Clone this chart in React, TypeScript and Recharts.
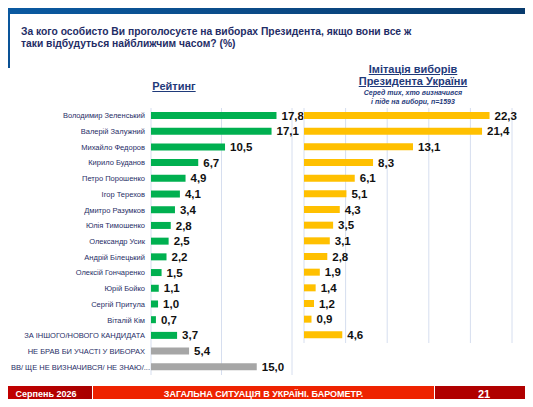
import React from 'react';
import { BarChart, Bar, XAxis, YAxis, CartesianGrid, LabelList, Cell } from 'recharts';

const ratingNames = [
    'Володимир Зеленський',
    'Валерій Залужний',
    'Михайло Федоров',
    'Кирило Буданов',
    'Петро Порошенко',
    'Ігор Терехов',
    'Дмитро Разумков',
    'Юлія Тимошенко',
    'Олександр Усик',
    'Андрій Білецький',
    'Олексій Гончаренко',
    'Юрій Бойко',
    'Сергій Притула',
    'Віталій Кім',
    'ЗА ІНШОГО/НОВОГО КАНДИДАТА',
    'НЕ БРАВ БИ УЧАСТІ У ВИБОРАХ',
    'ВВ/ ЩЕ НЕ ВИЗНАЧИВСЯ/ НЕ ЗНАЮ/...',
];
const ratingValues = [17.8, 17.1, 10.5, 6.7, 4.9, 4.1, 3.4, 2.8, 2.5, 2.2, 1.5, 1.1, 1.0, 0.7, 3.7, 5.4, 15.0];
const imitationValues = [22.3, 21.4, 13.1, 8.3, 6.1, 5.1, 4.3, 3.5, 3.1, 2.8, 1.9, 1.4, 1.2, 0.9, 4.6];
const ratingTicks = [0, 10, 20];
const imitationTicks = [0, 5, 10, 15, 20, 25];

const ratingData = ratingNames.map((name, i) => ({ name, value: ratingValues[i] }));
const imitationData = imitationValues.map((value, i) => ({ name: ratingNames[i], value }));

const FONT = '"Liberation Sans", Arial, sans-serif';
const NAVY = '#1f2d66';
const GRID = '#d6deef';

const fmt = (v: any) => Number(v).toFixed(1).replace('.', ',');

// one-line tick, recharts would wrap long names otherwise
function NameTick({ x, y, payload, index }: any) {
    // the last (truncated) label runs a bit past the others in the original
    const shift = index === ratingNames.length - 1 ? 5 : 0;
    return (
        <text x={x + shift} y={y} dy={2.5} textAnchor="end" fontSize={7.5} fill={NAVY} fontFamily={FONT}>
            {payload.value}
        </text>
    );
}

const labelStyle = { fontSize: 11.5, fontWeight: 'bold', fill: '#111111', fontFamily: FONT };

export default function App() {
    return (
        <div
            style={{
                position: 'relative',
                width: 533,
                height: 407,
                margin: -8,
                overflow: 'hidden',
                background: '#ffffff',
                fontFamily: FONT,
            }}
        >
            {/* header frame */}
            <div
                style={{
                    position: 'absolute',
                    left: 0,
                    top: 0,
                    width: 533,
                    height: 14,
                    background: 'linear-gradient(90deg, #0a5aa2 0%, #0b4a86 50%, #083a6c 100%)',
                }}
            />
            <div
                style={{
                    position: 'absolute',
                    left: 0,
                    top: 0,
                    width: 10,
                    height: 68,
                    background: 'linear-gradient(180deg, #0a5aa2 0%, #0a4f92 100%)',
                }}
            />
            <div
                style={{
                    position: 'absolute',
                    left: 21,
                    top: 26,
                    fontSize: 10.3,
                    fontWeight: 'bold',
                    color: NAVY,
                    lineHeight: '12px',
                }}
            >
                За кого особисто Ви проголосуєте на виборах Президента, якщо вони все ж
                <br />
                таки відбудуться найближчим часом? (%)
            </div>

            {/* section titles */}
            <div
                style={{
                    position: 'absolute',
                    left: 124,
                    width: 100,
                    top: 80,
                    textAlign: 'center',
                    fontSize: 11,
                    fontWeight: 'bold',
                    color: '#1f3a7a',
                    textDecoration: 'underline',
                }}
            >
                Рейтинг
            </div>
            <div
                style={{
                    position: 'absolute',
                    left: 353,
                    width: 120,
                    top: 63,
                    textAlign: 'center',
                    fontSize: 11,
                    fontWeight: 'bold',
                    color: '#1f3a7a',
                    textDecoration: 'underline',
                    lineHeight: '12px',
                }}
            >
                Імітація виборів
                <br />
                Президента України
            </div>
            <div
                style={{
                    position: 'absolute',
                    left: 353,
                    width: 120,
                    top: 88,
                    textAlign: 'center',
                    fontSize: 7,
                    fontWeight: 'bold',
                    fontStyle: 'italic',
                    color: '#1f3a7a',
                    lineHeight: '9px',
                }}
            >
                Серед тих, хто визначився
                <br />і піде на вибори, n=1593
            </div>

            {/* Рейтинг */}
            <div style={{ position: 'absolute', left: 0, top: 100 }}>
                <BarChart
                    width={322}
                    height={277}
                    data={ratingData}
                    layout="vertical"
                    margin={{ top: 8, right: 30, bottom: 2, left: 0 }}
                    barCategoryGap={0}
                >
                    <CartesianGrid horizontal={false} stroke={GRID} />
                    <XAxis type="number" domain={[0, 20]} ticks={ratingTicks} hide />
                    <YAxis
                        type="category"
                        dataKey="name"
                        width={151}
                        axisLine={false}
                        tickLine={false}
                        tickSize={0}
                        tickMargin={6}
                        interval={0}
                        tick={<NameTick />}
                    />
                    <Bar dataKey="value" barSize={7} isAnimationActive={false}>
                        {ratingData.map((d, i) => (
                            <Cell key={d.name} fill={i >= 15 ? '#a6a6a6' : '#00b050'} />
                        ))}
                        <LabelList dataKey="value" position="right" offset={5} formatter={fmt} style={labelStyle} />
                    </Bar>
                </BarChart>
            </div>

            {/* Імітація виборів */}
            <div style={{ position: 'absolute', left: 296, top: 100 }}>
                <BarChart
                    width={237}
                    height={245}
                    data={imitationData}
                    layout="vertical"
                    margin={{ top: 8, right: 21, bottom: 2, left: 8 }}
                    barCategoryGap={0}
                >
                    <CartesianGrid horizontal={false} stroke={GRID} />
                    <XAxis type="number" domain={[0, 25]} ticks={imitationTicks} hide />
                    <YAxis type="category" dataKey="name" hide />
                    <Bar dataKey="value" barSize={7} fill="#ffc000" isAnimationActive={false}>
                        <LabelList dataKey="value" position="right" offset={5} formatter={fmt} style={labelStyle} />
                    </Bar>
                </BarChart>
            </div>

            {/* footer */}
            <div
                style={{
                    position: 'absolute',
                    left: 0,
                    top: 386,
                    width: 92,
                    height: 16,
                    background: 'linear-gradient(90deg, #c40000, #a80000)',
                    color: '#ffffff',
                    fontSize: 9,
                    fontWeight: 'bold',
                    lineHeight: '16px',
                    textAlign: 'center',
                }}
            >
                Серпень 2026
            </div>
            <div
                style={{
                    position: 'absolute',
                    left: 93,
                    top: 386,
                    width: 341,
                    height: 16,
                    background: '#ee2200',
                    color: '#ffffff',
                    fontSize: 9,
                    fontWeight: 'bold',
                    lineHeight: '16px',
                    textAlign: 'center',
                }}
            >
                ЗАГАЛЬНА СИТУАЦІЯ В УКРАЇНІ. БАРОМЕТР.
            </div>
            <div
                style={{
                    position: 'absolute',
                    left: 435,
                    top: 386,
                    width: 98,
                    height: 16,
                    background: '#b00000',
                    color: '#ffffff',
                    fontSize: 11,
                    fontWeight: 'bold',
                    lineHeight: '16px',
                    textAlign: 'center',
                }}
            >
                21
            </div>
            <div
                style={{
                    position: 'absolute',
                    left: 0,
                    top: 402,
                    width: 533,
                    height: 5,
                    background: '#d4d4d4',
                }}
            />
        </div>
    );
}
